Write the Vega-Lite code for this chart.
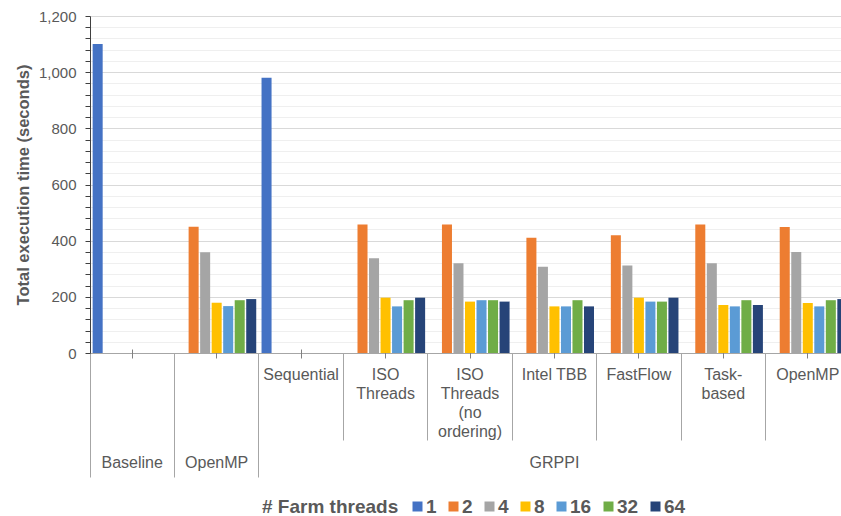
{
  "$schema": "https://vega.github.io/schema/vega-lite/v6.json",
  "width": 751,
  "height": 337,
  "autosize": "none",
  "padding": {"left": 90, "top": 16, "right": 0, "bottom": 163},
  "config": {"font": "Liberation Sans", "view": {"stroke": null}},
  "data": {"values": [
    {"cat": "Baseline", "threads": 1, "time": 1100},
    {"cat": "OpenMP", "threads": 2, "time": 450},
    {"cat": "OpenMP", "threads": 4, "time": 359},
    {"cat": "OpenMP", "threads": 8, "time": 179},
    {"cat": "OpenMP", "threads": 16, "time": 167},
    {"cat": "OpenMP", "threads": 32, "time": 188},
    {"cat": "OpenMP", "threads": 64, "time": 192},
    {"cat": "Sequential", "threads": 1, "time": 980},
    {"cat": "ISO Threads", "threads": 2, "time": 458},
    {"cat": "ISO Threads", "threads": 4, "time": 337},
    {"cat": "ISO Threads", "threads": 8, "time": 197},
    {"cat": "ISO Threads", "threads": 16, "time": 166},
    {"cat": "ISO Threads", "threads": 32, "time": 188},
    {"cat": "ISO Threads", "threads": 64, "time": 197},
    {"cat": "ISO Threads (no ordering)", "threads": 2, "time": 458},
    {"cat": "ISO Threads (no ordering)", "threads": 4, "time": 320},
    {"cat": "ISO Threads (no ordering)", "threads": 8, "time": 183},
    {"cat": "ISO Threads (no ordering)", "threads": 16, "time": 188},
    {"cat": "ISO Threads (no ordering)", "threads": 32, "time": 188},
    {"cat": "ISO Threads (no ordering)", "threads": 64, "time": 183},
    {"cat": "Intel TBB", "threads": 2, "time": 410},
    {"cat": "Intel TBB", "threads": 4, "time": 307},
    {"cat": "Intel TBB", "threads": 8, "time": 166},
    {"cat": "Intel TBB", "threads": 16, "time": 166},
    {"cat": "Intel TBB", "threads": 32, "time": 188},
    {"cat": "Intel TBB", "threads": 64, "time": 166},
    {"cat": "FastFlow", "threads": 2, "time": 419},
    {"cat": "FastFlow", "threads": 4, "time": 312},
    {"cat": "FastFlow", "threads": 8, "time": 197},
    {"cat": "FastFlow", "threads": 16, "time": 183},
    {"cat": "FastFlow", "threads": 32, "time": 183},
    {"cat": "FastFlow", "threads": 64, "time": 197},
    {"cat": "Task-based", "threads": 2, "time": 458},
    {"cat": "Task-based", "threads": 4, "time": 320},
    {"cat": "Task-based", "threads": 8, "time": 171},
    {"cat": "Task-based", "threads": 16, "time": 166},
    {"cat": "Task-based", "threads": 32, "time": 188},
    {"cat": "Task-based", "threads": 64, "time": 171},
    {"cat": "GRPPI OpenMP", "threads": 2, "time": 449},
    {"cat": "GRPPI OpenMP", "threads": 4, "time": 360},
    {"cat": "GRPPI OpenMP", "threads": 8, "time": 178},
    {"cat": "GRPPI OpenMP", "threads": 16, "time": 166},
    {"cat": "GRPPI OpenMP", "threads": 32, "time": 188},
    {"cat": "GRPPI OpenMP", "threads": 64, "time": 192}
  ]},
  "resolve": {"axis": {"x": "independent"}},
  "layer": [
    {
      "mark": {"type": "bar"},
      "encoding": {
        "x": {
          "field": "cat", "type": "nominal",
          "scale": {
            "domain": ["Baseline", "OpenMP", "Sequential", "ISO Threads", "ISO Threads (no ordering)", "Intel TBB", "FastFlow", "Task-based", "GRPPI OpenMP"],
            "range": [0, 760],
            "paddingInner": 0, "paddingOuter": 0
          },
          "axis": {
            "orient": "bottom",
            "title": null, "ticks": false, "domain": true, "domainColor": "#a6a6a6",
            "labelAngle": 0, "labelFontSize": 16, "labelColor": "#595959",
            "labelPadding": 13, "labelLineHeight": 19, "labelBaseline": "top",
            "labelExpr": "datum.value == 'Sequential' ? 'Sequential' : datum.value == 'ISO Threads' ? ['ISO','Threads'] : datum.value == 'ISO Threads (no ordering)' ? ['ISO','Threads','(no','ordering)'] : datum.value == 'Intel TBB' ? 'Intel TBB' : datum.value == 'FastFlow' ? 'FastFlow' : datum.value == 'Task-based' ? ['Task-','based'] : datum.value == 'GRPPI OpenMP' ? 'OpenMP' : ''"
          }
        },
        "xOffset": {
          "field": "threads", "type": "ordinal",
          "scale": {"domain": [1, 2, 4, 8, 16, 32, 64], "paddingInner": 0.13, "paddingOuter": 0.23}
        },
        "y": {
          "field": "time", "type": "quantitative",
          "scale": {"domain": [0, 1200], "nice": false},
          "axis": {
            "values": [0,40,80,120,160,200,240,280,320,360,400,440,480,520,560,600,640,680,720,760,800,840,880,920,960,1000,1040,1080,1120,1160,1200],
            "labelExpr": "datum.value % 200 === 0 ? format(datum.value, ',') : ''",
            "grid": true,
            "gridColor": {"condition": {"test": "datum.value % 200 === 0", "value": "#d9d9d9"}, "value": "#efefef"},
            "tickSize": 5, "tickColor": "#404040", "domainColor": "#404040",
            "labelFontSize": 15, "labelColor": "#595959", "labelPadding": 9,
            "title": "Total execution time (seconds)",
            "titleFontSize": 16.5, "titleFontWeight": "bold", "titleColor": "#595959", "titlePadding": 7
          }
        },
        "color": {
          "field": "threads", "type": "ordinal",
          "scale": {"domain": [1, 2, 4, 8, 16, 32, 64], "range": ["#4472C4", "#ED7D31", "#A5A5A5", "#FFC000", "#5B9BD5", "#70AD47", "#264478"]},
          "legend": {
            "title": "# Farm threads", "orient": "none", "legendX": 172, "legendY": 481,
            "direction": "horizontal", "titleOrient": "left", "gridAlign": "none",
            "titleFontSize": 19, "titleFontWeight": "bold", "titleColor": "#595959", "titlePadding": 9,
            "labelFontSize": 19, "labelFontWeight": "bold", "labelColor": "#595959", "labelOffset": -1,
            "columnPadding": 7, "symbolType": "square", "symbolSize": 100, "symbolStrokeWidth": 0
          }
        }
      }
    },
    {
      "mark": {"type": "point", "opacity": 0},
      "encoding": {
        "x": {
          "field": "cat", "type": "nominal",
          "axis": {"orient": "bottom", "title": null, "labels": false, "domain": false, "ticks": true, "bandPosition": 0, "tickSize": 87, "tickColor": "#a6a6a6", "tickWidth": 1}
        }
      }
    },
    {
      "mark": {"type": "point", "opacity": 0},
      "encoding": {
        "x": {
          "field": "cat", "type": "nominal",
          "axis": {"orient": "bottom", "title": null, "labels": false, "domain": false, "ticks": true, "bandPosition": 0, "values": ["Baseline", "OpenMP", "Sequential"], "tickSize": 124, "tickColor": "#a6a6a6", "tickWidth": 1}
        }
      }
    },
    {
      "mark": {"type": "point", "opacity": 0},
      "encoding": {
        "x": {
          "field": "cat", "type": "nominal",
          "axis": {
            "orient": "bottom",
            "title": null, "domain": false, "ticks": true, "bandPosition": 0.5, "tickSize": 9, "offset": -4, "tickColor": "#808080",
            "labelAngle": 0, "labelFontSize": 16, "labelColor": "#595959", "labelPadding": 96, "labelBaseline": "top",
            "labelExpr": "datum.value == 'Baseline' ? 'Baseline' : datum.value == 'OpenMP' ? 'OpenMP' : datum.value == 'Intel TBB' ? 'GRPPI' : ''"
          }
        }
      }
    }
  ]
}
